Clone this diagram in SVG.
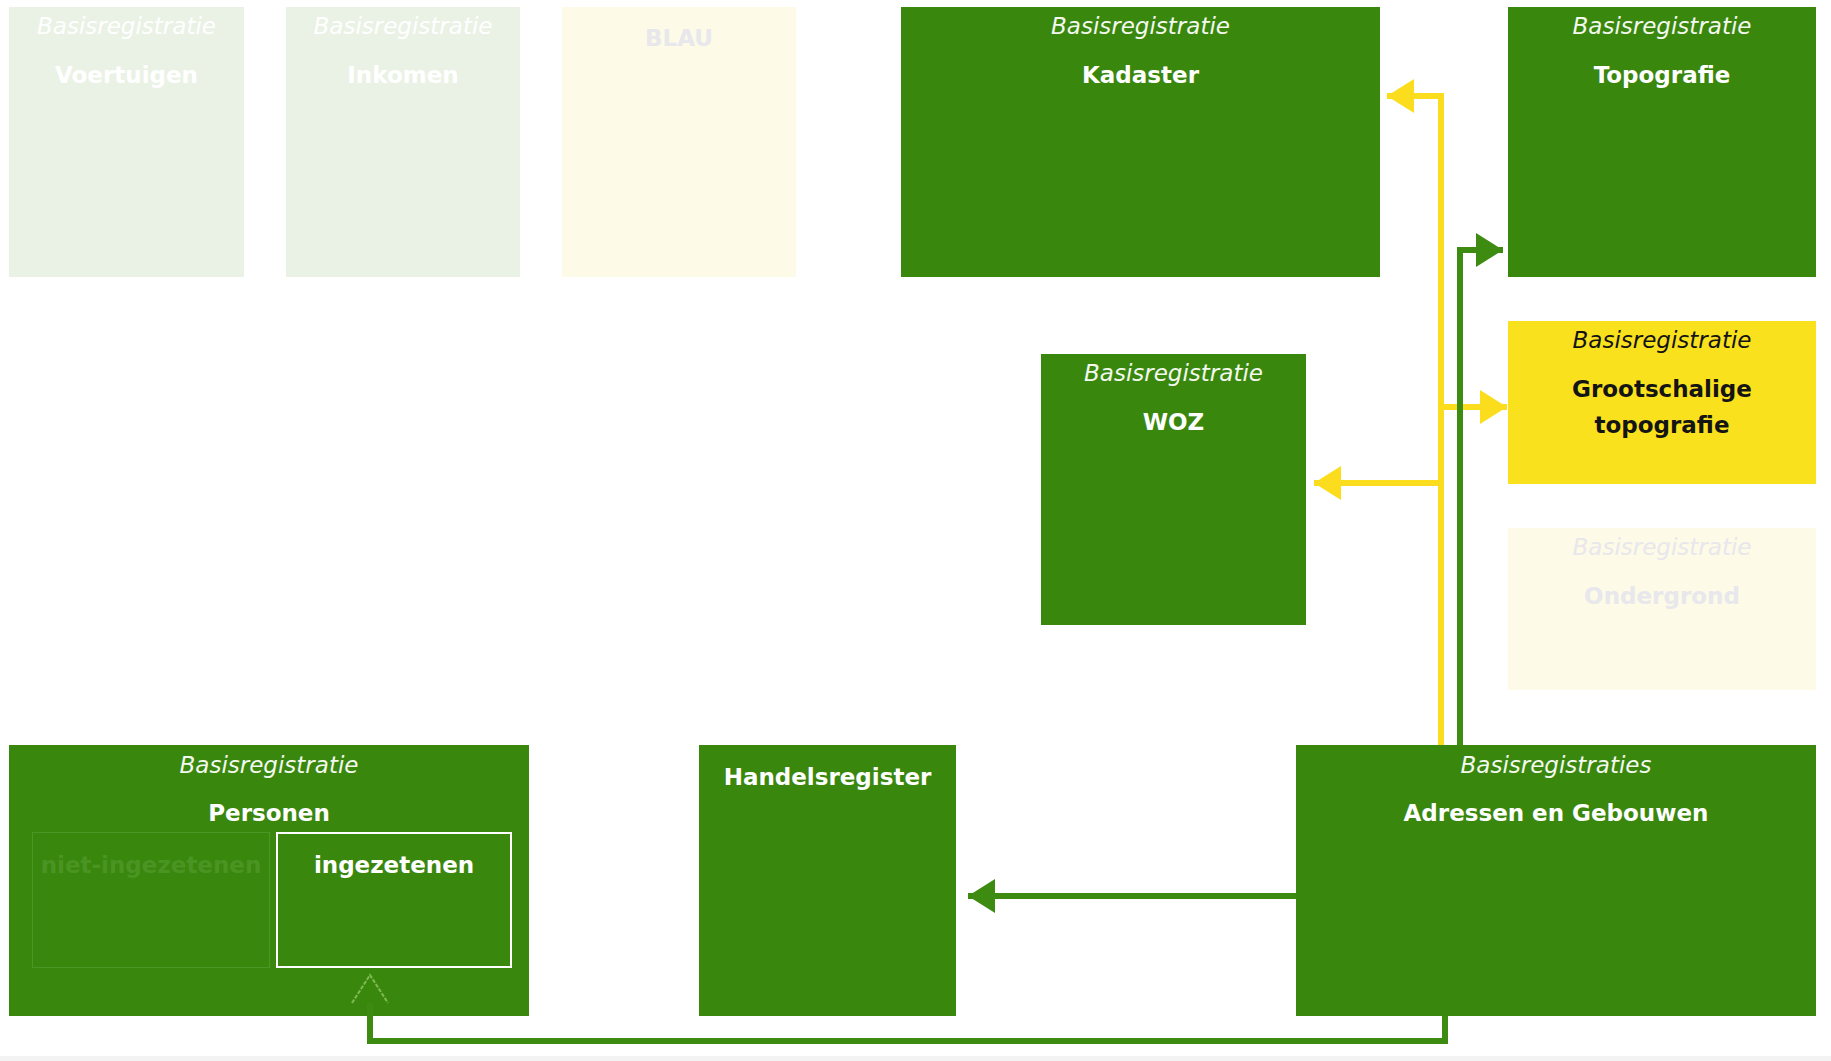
<svg xmlns="http://www.w3.org/2000/svg" width="1831" height="1061" viewBox="0 0 1831 1061">
<style>
  text { font-family: "DejaVu Sans", Verdana, sans-serif; font-size: 23px; text-anchor: middle; }
  .sub { font-style: italic; }
  .ttl { font-weight: bold; }
  .g { fill: #3a870e; }
  .y { fill: #f9e11e; }
  .fg { fill: #eaf2e5; }
  .fy { fill: #fdfae8; }
  .w { fill: #ffffff; }
  .sw { fill: #f3f9ee; }
  .k { fill: #141414; }
  .gray { fill: #e7e7ec; }
  .ylw { stroke: #fbdd1d; stroke-width: 6; fill: none; }
  .grn { stroke: #3d8b10; stroke-width: 6; fill: none; }
</style>
<defs>
  <marker id="ay" markerUnits="userSpaceOnUse" viewBox="0 0 27 34" markerWidth="27" markerHeight="34" refX="27" refY="17" orient="auto">
    <path d="M0,0 L27,17 L0,34 Z" fill="#fbdd1d"/>
  </marker>
  <marker id="ag" markerUnits="userSpaceOnUse" viewBox="0 0 27 34" markerWidth="27" markerHeight="34" refX="27" refY="17" orient="auto">
    <path d="M0,0 L27,17 L0,34 Z" fill="#3d8b10"/>
  </marker>
  <marker id="ao" markerUnits="userSpaceOnUse" viewBox="-3 -3 34 42" markerWidth="34" markerHeight="42" refX="0" refY="18" orient="auto">
    <path d="M0,0 L28,18 L0,36" fill="none" stroke="#7dbb52" stroke-width="2" stroke-dasharray="4 1.5"/>
  </marker>
</defs>
<rect x="0" y="0" width="1831" height="1061" fill="#ffffff"/>
<rect x="0" y="1056" width="1831" height="5" fill="#f3f3f3"/>

<g id="node-voertuigen">
  <rect class="fg" x="9" y="7" width="235" height="270"/>
  <text class="sub w" x="126.5" y="34">Basisregistratie</text>
  <text class="ttl w" x="126.5" y="83">Voertuigen</text>
</g>
<g id="node-inkomen">
  <rect class="fg" x="286" y="7" width="234" height="270"/>
  <text class="sub w" x="403" y="34">Basisregistratie</text>
  <text class="ttl w" x="403" y="83">Inkomen</text>
</g>
<g id="node-blau">
  <rect class="fy" x="562" y="7" width="234" height="270"/>
  <text class="ttl gray" x="679" y="46">BLAU</text>
</g>
<g id="node-kadaster">
  <rect class="g" x="901" y="7" width="479" height="270"/>
  <text class="sub sw" x="1140.5" y="34">Basisregistratie</text>
  <text class="ttl w" x="1140.5" y="83">Kadaster</text>
</g>
<g id="node-topografie">
  <rect class="g" x="1508" y="7" width="308" height="270"/>
  <text class="sub sw" x="1662" y="34">Basisregistratie</text>
  <text class="ttl w" x="1662" y="83">Topografie</text>
</g>
<g id="node-woz">
  <rect class="g" x="1041" y="354" width="265" height="271"/>
  <text class="sub sw" x="1173.5" y="381">Basisregistratie</text>
  <text class="ttl w" x="1173.5" y="430">WOZ</text>
</g>
<g id="node-grootschalige-topografie">
  <rect class="y" x="1508" y="321" width="308" height="163"/>
  <text class="sub k" x="1662" y="348">Basisregistratie</text>
  <text class="ttl k" x="1662" y="397">Grootschalige</text>
  <text class="ttl k" x="1662" y="433">topografie</text>
</g>
<g id="node-ondergrond">
  <rect class="fy" x="1508" y="528" width="308" height="162"/>
  <text class="sub gray" x="1662" y="555">Basisregistratie</text>
  <text class="ttl gray" x="1662" y="604">Ondergrond</text>
</g>
<g id="node-personen">
  <rect class="g" x="9" y="745" width="520" height="271"/>
  <text class="sub sw" x="269" y="773">Basisregistratie</text>
  <text class="ttl w" x="269" y="821">Personen</text>
  <g id="node-niet-ingezetenen">
    <rect x="32.5" y="832.5" width="237" height="135" fill="none" stroke="#4b9626" stroke-width="1"/>
    <text class="ttl" x="151" y="873" fill="#4a9424">niet-ingezetenen</text>
  </g>
  <g id="node-ingezetenen">
    <rect x="277" y="833" width="234" height="134" fill="none" stroke="#ffffff" stroke-width="2"/>
    <text class="ttl w" x="394" y="873">ingezetenen</text>
  </g>
</g>
<g id="node-handelsregister">
  <rect class="g" x="699" y="745" width="257" height="271"/>
  <text class="ttl w" x="827.5" y="785">Handelsregister</text>
</g>
<g id="node-bag">
  <rect class="g" x="1296" y="745" width="520" height="271"/>
  <text class="sub sw" x="1556" y="773">Basisregistraties</text>
  <text class="ttl w" x="1556" y="821">Adressen en Gebouwen</text>
</g>

<g id="connectors">
  <path class="ylw" d="M1441,745 V96 H1387" marker-end="url(#ay)"/>
  <path class="ylw" d="M1441,407 H1507" marker-end="url(#ay)"/>
  <path class="ylw" d="M1441,483 H1314" marker-end="url(#ay)"/>
  <path class="grn" d="M1460,745 V250 H1503" marker-end="url(#ag)"/>
  <path class="grn" d="M1296,896 H968" marker-end="url(#ag)"/>
  <path class="grn" d="M1445,1016 V1041 H370 V1003" stroke="#44961a" marker-end="url(#ao)"/>
</g>
</svg>
